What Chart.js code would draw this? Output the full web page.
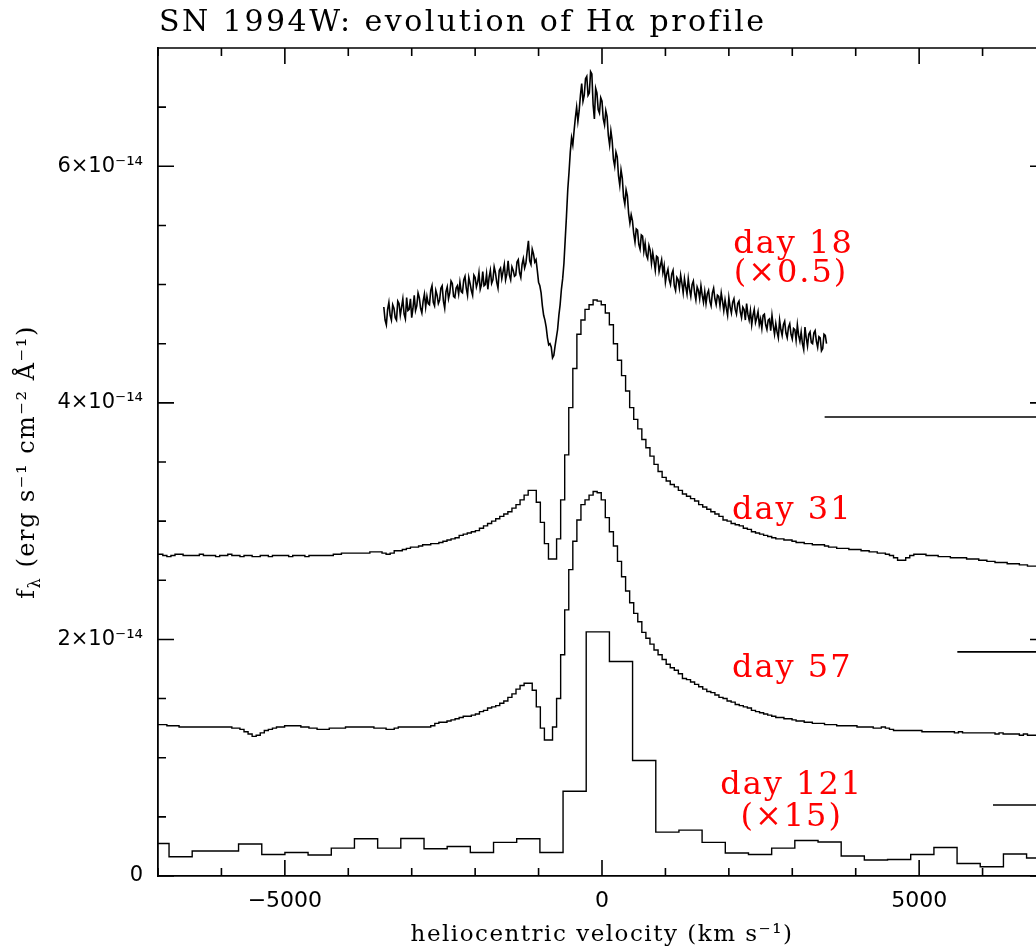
<!DOCTYPE html>
<html>
<head>
<meta charset="utf-8">
<title>SN 1994W: evolution of Hα profile</title>
<script src="https://cdn.jsdelivr.net/npm/chart.js@4.4.1/dist/chart.umd.min.js"></script>
<style>
  html, body { margin: 0; padding: 0; background: #fff; overflow: hidden; }
  #wrap { width: 1036px; height: 950px; overflow: hidden; }
</style>
</head>
<body>
<div id="wrap"><canvas id="chart" width="1060" height="950"></canvas></div>
<script>
// flux in units of 1e-14 erg s-1 cm-2 A-1, velocity in km/s

// day 18 (x0.5): noisy spectrum, one point every 20 km/s from -3440
const day18Start = -3440;
const day18Step = 20;
const day18Flux = [
  4.81, 4.70, 4.66, 4.79, 4.85, 4.74, 4.70, 4.83, 4.80, 4.72, 4.70, 4.86, 4.84, 4.74, 4.81, 4.88, 4.75, 4.71, 4.89, 4.78,
  4.79, 4.88, 4.72, 4.80, 4.91, 4.78, 4.82, 4.93, 4.89, 4.80, 4.76, 4.86, 4.92, 4.81, 4.90, 4.84, 4.83, 4.95, 4.99, 4.85,
  4.82, 4.95, 4.91, 4.84, 4.87, 4.97, 4.99, 4.86, 4.80, 4.94, 4.98, 4.88, 4.93, 5.03, 5.01, 4.90, 4.89, 4.97, 4.99, 4.92,
  5.02, 4.94, 4.93, 5.04, 5.07, 4.97, 4.91, 5.06, 5.01, 4.95, 4.91, 5.08, 5.06, 4.98, 5.02, 5.10, 4.96, 5.00, 5.11, 4.99,
  5.00, 5.09, 4.96, 5.06, 5.12, 5.01, 5.04, 5.15, 5.10, 5.02, 4.97, 5.12, 5.14, 5.05, 5.11, 5.17, 5.04, 5.09, 5.20, 5.08,
  5.04, 5.15, 5.12, 5.07, 5.08, 5.19, 5.21, 5.10, 5.06, 5.17, 5.22, 5.14, 5.18, 5.28, 5.37, 5.20, 5.17, 5.30, 5.26, 5.19,
  5.21, 5.12, 5.02, 4.99, 4.93, 4.82, 4.74, 4.70, 4.64, 4.55, 4.49, 4.50, 4.47, 4.38, 4.40, 4.48, 4.55, 4.62, 4.74, 4.83,
  4.96, 5.05, 5.18, 5.38, 5.58, 5.80, 5.95, 6.12, 6.24, 6.18, 6.30, 6.41, 6.50, 6.38, 6.47, 6.60, 6.70, 6.55, 6.60, 6.74,
  6.76, 6.60, 6.62, 6.80, 6.78, 6.52, 6.40, 6.66, 6.62, 6.48, 6.45, 6.58, 6.55, 6.40, 6.35, 6.47, 6.42, 6.26, 6.18, 6.30,
  6.22, 6.06, 6.00, 6.12, 6.08, 5.92, 5.84, 5.97, 5.90, 5.74, 5.68, 5.80, 5.75, 5.60, 5.52, 5.59, 5.54, 5.43, 5.36, 5.47,
  5.46, 5.34, 5.30, 5.42, 5.41, 5.28, 5.35, 5.25, 5.22, 5.33, 5.29, 5.18, 5.27, 5.20, 5.12, 5.24, 5.23, 5.11, 5.16, 5.21,
  5.10, 5.16, 5.02, 5.09, 5.13, 5.04, 5.00, 5.09, 5.12, 4.99, 4.95, 5.06, 5.04, 4.97, 5.08, 5.01, 4.93, 5.05, 4.98, 4.92,
  5.05, 4.96, 4.90, 5.00, 5.03, 4.93, 4.87, 4.98, 4.95, 4.88, 4.99, 4.91, 4.85, 4.94, 4.84, 4.92, 4.95, 4.86, 4.82, 4.93,
  4.97, 4.88, 4.83, 4.91, 4.90, 4.82, 4.93, 4.86, 4.78, 4.87, 4.80, 4.74, 4.89, 4.81, 4.76, 4.85, 4.88, 4.79, 4.75, 4.84,
  4.86, 4.77, 4.72, 4.81, 4.79, 4.70, 4.84, 4.75, 4.70, 4.78, 4.66, 4.74, 4.79, 4.68, 4.72, 4.77, 4.66, 4.71, 4.63, 4.74,
  4.75, 4.66, 4.62, 4.70, 4.71, 4.61, 4.74, 4.65, 4.58, 4.67, 4.60, 4.55, 4.70, 4.62, 4.57, 4.66, 4.69, 4.59, 4.55, 4.64,
  4.67, 4.58, 4.54, 4.63, 4.62, 4.53, 4.66, 4.57, 4.52, 4.60, 4.50, 4.45, 4.64, 4.55, 4.48, 4.58, 4.60, 4.51, 4.50, 4.59,
  4.61, 4.52, 4.47, 4.56, 4.55, 4.44, 4.46, 4.58, 4.57, 4.50
];

// day 31 and day 57: binned spectra, bin centres every 64 km/s from -7020
const binStart = -7020;
const binStep = 64;
const day31Flux = [
  2.72, 2.72, 2.71, 2.70, 2.71, 2.72, 2.72, 2.71, 2.71, 2.71,
  2.71, 2.72, 2.71, 2.71, 2.71, 2.70, 2.71, 2.71, 2.72, 2.71,
  2.71, 2.70, 2.71, 2.71, 2.70, 2.70, 2.71, 2.71, 2.70, 2.71,
  2.71, 2.71, 2.71, 2.70, 2.71, 2.71, 2.71, 2.70, 2.71, 2.71,
  2.71, 2.71, 2.71, 2.71, 2.72, 2.72, 2.73, 2.73, 2.73, 2.73,
  2.73, 2.73, 2.73, 2.74, 2.74, 2.74, 2.73, 2.72, 2.73, 2.75,
  2.75, 2.76, 2.77, 2.78, 2.78, 2.79, 2.80, 2.80, 2.81, 2.81,
  2.82, 2.83, 2.84, 2.85, 2.86, 2.88, 2.89, 2.90, 2.91, 2.92,
  2.94, 2.96, 2.98, 3.00, 3.02, 3.04, 3.06, 3.08, 3.11, 3.14,
  3.18, 3.22, 3.26, 3.26, 3.16, 2.99, 2.81, 2.68, 2.68, 2.85,
  3.18, 3.56, 3.96, 4.29, 4.58, 4.70, 4.79, 4.83, 4.87, 4.86,
  4.83, 4.76, 4.66, 4.50, 4.36, 4.23, 4.10, 3.96, 3.86, 3.78,
  3.69, 3.62, 3.55, 3.48, 3.42, 3.37, 3.34, 3.31, 3.29, 3.26,
  3.23, 3.21, 3.19, 3.17, 3.14, 3.12, 3.10, 3.08, 3.06, 3.04,
  3.01, 3.00, 2.98, 2.97, 2.96, 2.94, 2.93, 2.91, 2.90, 2.89,
  2.88, 2.87, 2.86, 2.85, 2.85, 2.84, 2.84, 2.83, 2.82, 2.82,
  2.81, 2.81, 2.80, 2.80, 2.80, 2.79, 2.78, 2.78, 2.77, 2.77,
  2.77, 2.76, 2.76, 2.76, 2.75, 2.75, 2.74, 2.74, 2.73, 2.73,
  2.72, 2.71, 2.69, 2.67, 2.67, 2.69, 2.71, 2.72, 2.72, 2.72,
  2.71, 2.71, 2.71, 2.70, 2.70, 2.70, 2.69, 2.69, 2.69, 2.69,
  2.68, 2.68, 2.68, 2.67, 2.67, 2.66, 2.66, 2.65, 2.65, 2.65,
  2.64, 2.64, 2.64, 2.63, 2.63, 2.62, 2.62, 2.62, 2.61, 2.61
];
const day57Flux = [
  1.28, 1.28, 1.28, 1.27, 1.27, 1.27, 1.26, 1.26, 1.26, 1.26,
  1.26, 1.26, 1.26, 1.26, 1.26, 1.26, 1.26, 1.26, 1.26, 1.25,
  1.25, 1.24, 1.22, 1.20, 1.18, 1.19, 1.21, 1.23, 1.24, 1.25,
  1.26, 1.26, 1.27, 1.27, 1.27, 1.27, 1.26, 1.26, 1.25, 1.25,
  1.24, 1.24, 1.24, 1.25, 1.25, 1.25, 1.25, 1.26, 1.26, 1.26,
  1.26, 1.26, 1.26, 1.26, 1.25, 1.25, 1.25, 1.24, 1.24, 1.25,
  1.26, 1.26, 1.26, 1.26, 1.26, 1.26, 1.26, 1.26, 1.27, 1.29,
  1.30, 1.30, 1.31, 1.32, 1.33, 1.34, 1.35, 1.35, 1.36, 1.37,
  1.39, 1.40, 1.42, 1.43, 1.44, 1.46, 1.48, 1.51, 1.54, 1.58,
  1.61, 1.63, 1.63, 1.57, 1.43, 1.25, 1.15, 1.15, 1.26, 1.50,
  1.87, 2.25, 2.59, 2.83, 3.01, 3.14, 3.18, 3.22, 3.25, 3.24,
  3.18, 3.03, 2.91, 2.79, 2.66, 2.53, 2.41, 2.31, 2.22, 2.15,
  2.06, 2.01, 1.96, 1.91, 1.87, 1.83, 1.79, 1.76, 1.74, 1.71,
  1.67, 1.66, 1.64, 1.62, 1.60, 1.58, 1.56, 1.55, 1.53, 1.51,
  1.50, 1.48, 1.47, 1.45, 1.44, 1.43, 1.42, 1.40, 1.39, 1.38,
  1.37, 1.36, 1.35, 1.34, 1.34, 1.33, 1.33, 1.32, 1.31, 1.31,
  1.30, 1.30, 1.29, 1.29, 1.29, 1.28, 1.28, 1.28, 1.27, 1.27,
  1.27, 1.27, 1.27, 1.26, 1.26, 1.26, 1.26, 1.25, 1.25, 1.26,
  1.25, 1.24, 1.23, 1.23, 1.23, 1.23, 1.23, 1.23, 1.23, 1.22,
  1.22, 1.22, 1.22, 1.22, 1.22, 1.22, 1.22, 1.21, 1.22, 1.21,
  1.21, 1.21, 1.21, 1.21, 1.21, 1.21, 1.21, 1.20, 1.21, 1.20,
  1.20, 1.20, 1.20, 1.19, 1.20, 1.19, 1.19, 1.19, 1.19, 1.19
];

// day 121 (x15): coarse bins, left edge of each bin
const day121Edges = [
  -7000, -6826, -6461, -6095, -5730, -5364, -4999, -4634, -4268, -3903,
  -3537, -3172, -2806, -2441, -2076, -1710, -1345, -979, -614, -249,
  117, 482, 848, 1213, 1578, 1944, 2309, 2675, 3040, 3406,
  3771, 4136, 4502, 4867, 5233, 5598, 5963, 6329, 6694, 7000
];
const day121Flux = [
  0.275, 0.163, 0.211, 0.211, 0.270, 0.182, 0.199, 0.177, 0.236, 0.315,
  0.236, 0.317, 0.230, 0.250, 0.199, 0.284, 0.315, 0.199, 0.717, 2.064,
  1.814, 0.976, 0.371, 0.388, 0.284, 0.194, 0.182, 0.236, 0.300, 0.287,
  0.169, 0.135, 0.140, 0.182, 0.241, 0.106, 0.078, 0.186, 0.152, 0.152
];

// level markers at the right-hand side
const markerFrom = [3510, 5602, 6164, 6164];
const markerLevel = [3.88, 1.895, 0.60, 0];

// curve labels
const labelText = ["day 18", "(\u00d70.5)", "day 31", "day 57", "day 121", "(\u00d715)"];
const labelVel = [3020, 2980, 3000, 3000, 2990, 2990];
const labelFlux = [5.27, 5.02, 3.02, 1.68, 0.69, 0.42];

const xTickStep = 1000;
const yTickStep = 0.5;

function gridSeries(start, step, values) {
  return values.map((v, i) => ({ x: start + step * i, y: v }));
}

const lineStyle = { borderColor: "#000", borderWidth: 1.4, pointRadius: 0, fill: false };

const datasets = [
  Object.assign({ label: "day 18", data: gridSeries(day18Start, day18Step, day18Flux), tension: 0 }, lineStyle, { borderWidth: 1.6 }),
  Object.assign({ label: "day 31", data: gridSeries(binStart, binStep, day31Flux), stepped: "middle" }, lineStyle),
  Object.assign({ label: "day 57", data: gridSeries(binStart, binStep, day57Flux), stepped: "middle" }, lineStyle),
  Object.assign({ label: "day 121", data: day121Edges.map((x, i) => ({ x: x, y: day121Flux[i] })), stepped: true }, lineStyle),
];
markerFrom.forEach((x0, i) => {
  datasets.push(Object.assign({ label: "marker" + i, data: [{ x: x0, y: markerLevel[i] }, { x: 7000, y: markerLevel[i] }] }, lineStyle, { borderWidth: 1.6 }));
});

// ticks inside the frame, top border, titles and labels
const decor = {
  id: "decor",
  afterDraw(chart) {
    const { ctx, chartArea: a, scales } = chart;
    const sx = scales.x, sy = scales.y;
    ctx.save();
    ctx.strokeStyle = "#000";
    ctx.lineWidth = 1.6;
    ctx.beginPath();
    ctx.moveTo(a.left, a.top);
    ctx.lineTo(a.right, a.top);
    ctx.lineTo(a.right, a.bottom);
    sx.ticks.forEach(t => {
      const px = sx.getPixelForValue(t.value);
      const len = t.value % 5000 === 0 ? 16 : 8;
      ctx.moveTo(px, a.bottom); ctx.lineTo(px, a.bottom - len);
      ctx.moveTo(px, a.top); ctx.lineTo(px, a.top + len);
    });
    sy.ticks.forEach(t => {
      const py = sy.getPixelForValue(t.value);
      const len = Math.abs(t.value / 2 - Math.round(t.value / 2)) < 1e-6 ? 16 : 8;
      ctx.moveTo(a.left, py); ctx.lineTo(a.left + len, py);
      ctx.moveTo(a.right, py); ctx.lineTo(a.right - len, py);
    });
    ctx.stroke();

    // title
    ctx.fillStyle = "#000";
    ctx.font = "30px 'DejaVu Serif'";
    ctx.textAlign = "left";
    ctx.textBaseline = "alphabetic";
    ctx.letterSpacing = "2.5px";
    ctx.fillText("SN 1994W: evolution of H\u03b1 profile", 159, 31);

    // x axis title
    ctx.font = "23px 'DejaVu Serif'";
    ctx.textAlign = "center";
    ctx.letterSpacing = "1.5px";
    ctx.fillText("heliocentric velocity (km s\u207b\u00b9)", sx.getPixelForValue(0), 941);

    // y axis title, rotated, with subscript lambda
    ctx.translate(34, (a.top + a.bottom) / 2);
    ctx.rotate(-Math.PI / 2);
    ctx.textAlign = "left";
    ctx.letterSpacing = "1.5px";
    const big = "24px 'DejaVu Serif'", small = "16px 'DejaVu Serif'";
    const rest = " (erg s\u207b\u00b9 cm\u207b\u00b2 \u00c5\u207b\u00b9)";
    ctx.font = big; const wf = ctx.measureText("f").width; const wr = ctx.measureText(rest).width;
    ctx.font = small; const wl = ctx.measureText("\u03bb").width;
    const x0 = -(wf + wl + wr) / 2;
    ctx.font = big; ctx.fillText("f", x0, 0);
    ctx.font = small; ctx.fillText("\u03bb", x0 + wf, 6);
    ctx.font = big; ctx.fillText(rest, x0 + wf + wl, 0);
    ctx.restore();

    // red curve labels
    ctx.save();
    ctx.fillStyle = "#ff0000";
    ctx.font = "32px 'DejaVu Serif'";
    ctx.letterSpacing = "2px";
    ctx.textAlign = "center";
    ctx.textBaseline = "alphabetic";
    labelText.forEach((txt, i) => {
      ctx.fillText(txt, sx.getPixelForValue(labelVel[i]), sy.getPixelForValue(labelFlux[i]));
    });
    ctx.restore();
  }
};

new Chart(document.getElementById("chart"), {
  type: "line",
  data: { datasets: datasets },
  plugins: [decor],
  options: {
    responsive: false,
    animation: false,
    layout: { padding: { top: 48, right: 14, left: 0, bottom: 0 } },
    plugins: { legend: { display: false }, tooltip: { enabled: false }, title: { display: false } },
    scales: {
      x: {
        type: "linear",
        min: -7000,
        max: 7000,
        grid: { display: false, drawTicks: false },
        border: { display: true, color: "#000", width: 1.8 },
        ticks: {
          stepSize: xTickStep,
          autoSkip: false,
          maxRotation: 0,
          padding: 12,
          color: "#000",
          font: { family: "DejaVu Sans", size: 22 },
          callback: v => (v % 5000 === 0 ? (v < 0 ? "\u2212" + Math.abs(v) : String(v)) : "")
        },
        afterFit: s => { s.height = 74; }
      },
      y: {
        type: "linear",
        min: 0,
        max: 7,
        grid: { display: false, drawTicks: false },
        border: { display: true, color: "#000", width: 1.8 },
        ticks: {
          stepSize: yTickStep,
          autoSkip: false,
          padding: 15,
          color: "#000",
          font: { family: "DejaVu Sans", size: 21 },
          callback: v => {
            if (v === 0) return "0";
            if (Math.abs(v / 2 - Math.round(v / 2)) < 1e-6) return v + "\u00d710\u207b\u00b9\u2074";
            return "";
          }
        },
        afterFit: s => { s.height = s.height; s.width = 158; }
      }
    }
  }
});
</script>
</body>
</html>
